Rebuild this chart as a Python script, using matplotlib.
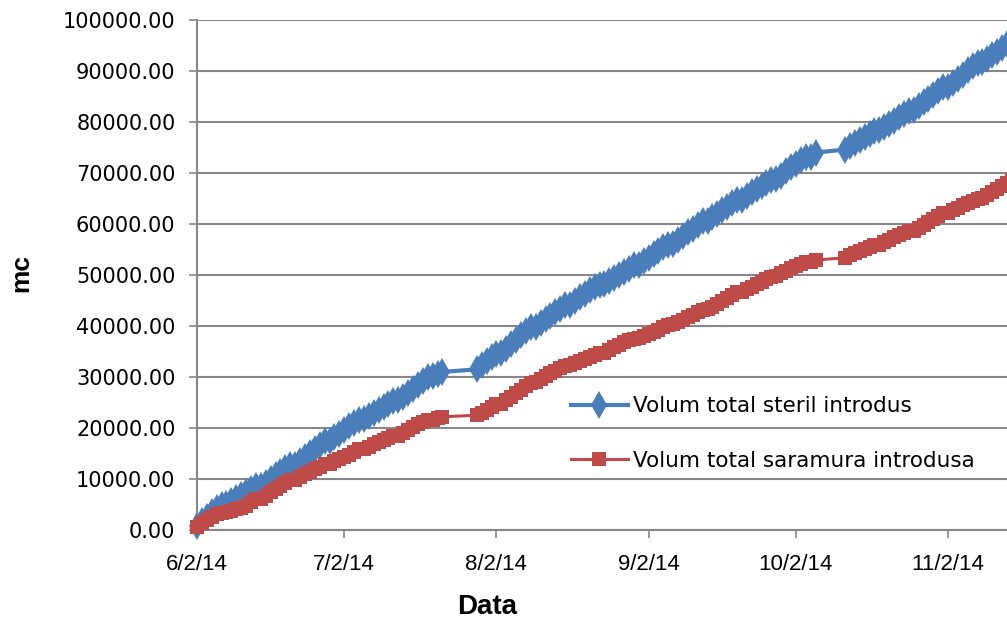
import matplotlib
matplotlib.use("Agg")
import matplotlib.pyplot as plt
import matplotlib.dates as mdates
from matplotlib.ticker import FuncFormatter, MultipleLocator
import pandas as pd

# daily readings, 2 Jun 2014 .. 15 Nov 2014, no data 23-28 Jul and 7-11 Oct
FIRST_DAY = "2014-06-02"
LAST_DAY = "2014-11-15"
MISSING = [("2014-07-23", "2014-07-28"), ("2014-10-07", "2014-10-11")]

LABEL_STERIL = "Volum total steril introdus"
LABEL_SARAMURA = "Volum total saramura introdusa"

# cumulative volume (mc), one row per week
steril = [
    800, 1700, 2600, 3500, 4300, 5000, 5100,
    5600, 6200, 6800, 7400, 8000, 8600, 8700,
    9300, 10000, 10700, 11400, 12100, 12700, 12800,
    13500, 14300, 15100, 15900, 16700, 17400, 17500,
    18200, 18900, 19600, 20300, 21000, 21600, 21700,
    22300, 22900, 23500, 24100, 24700, 25300, 25400,
    26100, 26900, 27700, 28500, 29300, 30000, 30100,
    30600, 31000,
    31500, 32300, 33100, 33900, 34600, 34700,
    35500, 36400, 37300, 38200, 39000, 39800, 39900,
    40600, 41300, 42000, 42700, 43400, 44100, 44200,
    44900, 45600, 46300, 47000, 47600, 48100, 48200,
    48800, 49400, 50000, 50600, 51200, 51900, 52000,
    52700, 53400, 54100, 54800, 55400, 55900, 56000,
    56800, 57600, 58400, 59100, 59800, 60500, 60600,
    61300, 62000, 62700, 63400, 64100, 64700, 64800,
    65500, 66200, 66900, 67500, 68100, 68700, 68800,
    69500, 70300, 71100, 71800, 72500, 73100, 73200,
    74000, 74600,
    75200, 75800, 76400, 77000, 77600, 78300, 78400,
    79000, 79600, 80200, 80900, 81600, 82200, 82300,
    83100, 83900, 84600, 85300, 86000, 86800, 86900,
    87700, 88500, 89300, 90100, 90900, 91600, 91700,
    92400, 93100, 93800, 94500, 95200, 95900,
]

saramura = [
    600, 1300, 2000, 2600, 3100, 3400, 3500,
    3800, 4100, 4400, 4800, 5400, 6000, 6100,
    6700, 7400, 8100, 8700, 9300, 9800, 9900,
    10400, 10900, 11400, 11900, 12400, 12900, 13000,
    13500, 13900, 14300, 14800, 15300, 15800, 15900,
    16300, 16800, 17200, 17600, 18000, 18400, 18500,
    19000, 19600, 20200, 20700, 21100, 21500, 21600,
    21900, 22200,
    22500, 23000, 23500, 24100, 24700, 24800,
    25400, 26100, 26800, 27500, 28200, 28900, 29000,
    29600, 30200, 30700, 31200, 31700, 32200, 32300,
    32700, 33100, 33500, 33900, 34300, 34700, 34800,
    35300, 35800, 36300, 36800, 37200, 37500, 37600,
    38000, 38400, 38800, 39300, 39800, 40200, 40300,
    40700, 41200, 41700, 42200, 42700, 43200, 43300,
    43800, 44300, 44900, 45500, 46100, 46600, 46700,
    47200, 47700, 48200, 48700, 49200, 49700, 49800,
    50300, 50800, 51300, 51700, 52100, 52500, 52600,
    52900, 53400,
    53900, 54300, 54700, 55100, 55400, 55800, 55900,
    56400, 56900, 57400, 57800, 58200, 58600, 58700,
    59200, 59800, 60400, 61000, 61600, 62100, 62200,
    62700, 63200, 63700, 64200, 64600, 65000, 65100,
    65700, 66300, 66900, 67500, 68000, 68500,
]

BLUE = "#4A7EBB"
RED = "#BE4B48"
GRID = "#878787"


def build_dates():
    days = pd.date_range(FIRST_DAY, LAST_DAY, freq="D")
    for start, end in MISSING:
        days = days.drop(pd.date_range(start, end, freq="D"))
    return days


def date_label(x, pos):
    d = mdates.num2date(x)
    return f"{d.month}/{d.day}/{d.strftime('%y')}"


def main():
    dates = build_dates()

    fig = plt.figure(figsize=(10.07, 6.25), dpi=100)
    ax = fig.add_axes([0.1956, 0.152, 0.8044, 0.816])

    ax.plot(dates, steril, color=BLUE, linewidth=3.0, marker="d",
            markersize=14, markeredgewidth=0, label=LABEL_STERIL,
            clip_on=False, zorder=3)
    ax.plot(dates, saramura, color=RED, linewidth=2.2, marker="s",
            markersize=10.5, markeredgewidth=0, label=LABEL_SARAMURA,
            clip_on=False, zorder=4)

    x0 = mdates.date2num(pd.Timestamp(FIRST_DAY))
    ax.set_xlim(x0, x0 + 165)
    ax.set_ylim(0, 100000)

    ax.yaxis.set_major_locator(MultipleLocator(10000))
    ax.yaxis.set_major_formatter(FuncFormatter(lambda v, p: f"{v:.2f}"))
    ax.xaxis.set_major_locator(mdates.MonthLocator(bymonthday=2))
    ax.xaxis.set_major_formatter(FuncFormatter(date_label))

    ax.grid(axis="y", color=GRID, linewidth=1.5, zorder=0)
    ax.set_axisbelow(True)
    for side in ("top", "right"):
        ax.spines[side].set_visible(False)
    for side in ("left", "bottom"):
        ax.spines[side].set_color(GRID)
        ax.spines[side].set_linewidth(1.5)

    ax.tick_params(axis="y", direction="out", length=5.5, width=1.2,
                   color=GRID, pad=10, labelsize=15, labelcolor="black")
    ax.tick_params(axis="x", direction="out", length=5.5, width=1.2,
                   color=GRID, pad=12, labelsize=16, labelcolor="black")
    for lbl in ax.get_xticklabels():
        lbl.set_fontfamily("Liberation Sans")

    fig.text(0.021, 0.563, "mc", rotation=90, ha="center", va="center",
             fontsize=19, fontweight="bold", family="Liberation Sans")
    fig.text(0.484, 0.029, "Data", ha="center", va="center",
             fontsize=20, fontweight="bold", family="Liberation Sans")

    ax.legend(loc="upper left", bbox_to_anchor=(0.556, 0.383),
              bbox_transform=fig.transFigure, frameon=False, borderpad=0,
              handlelength=2.65, handletextpad=0.25, labelspacing=1.6,
              prop={"family": "DejaVu Sans", "size": 15.5})

    fig.savefig("out.png", dpi=100)


if __name__ == "__main__":
    main()
